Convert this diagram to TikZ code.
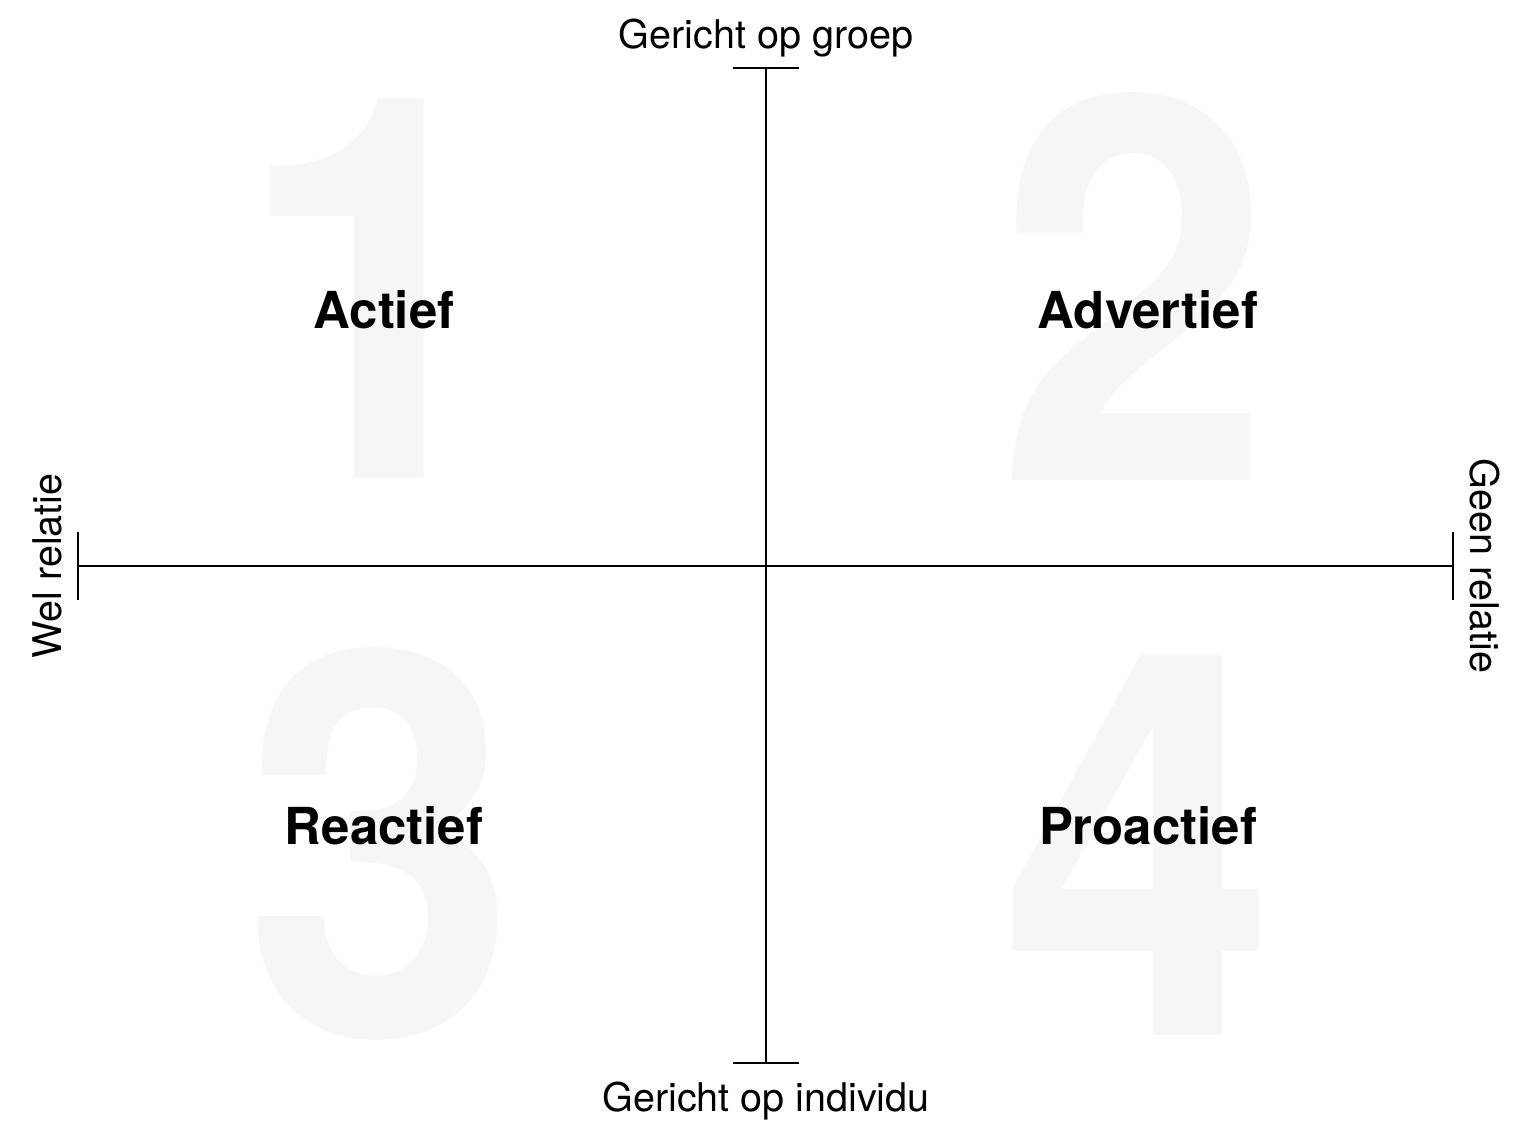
\documentclass[tikz,border=0pt]{standalone}
\usepackage{fontspec}
\setmainfont{TeX Gyre Heros}
\newfontfamily\digitfont[FakeStretch=0.92]{TeX Gyre Heros}
\definecolor{bignum}{HTML}{F6F6F6}
\begin{document}
\begin{tikzpicture}[x=0.02cm, y=-0.02cm,
		axis/.style={line width=1.1pt},
		digit/.style={anchor=base, inner sep=0pt, text=bignum, font=\digitfont\bfseries\fontsize{305}{305}\selectfont},
		quadrant/.style={anchor=base, inner sep=0pt, font=\bfseries\fontsize{29}{32}\selectfont},
		pole/.style={anchor=base, inner sep=0pt, font=\fontsize{22.5}{26}\selectfont}]
		\useasboundingbox[fill=white] (0,0) rectangle (1520,1134);
		% grote cijfers op de achtergrond
		\node[digit] (n1) at (375,478) {1};
		\node[digit] (n2) at (1135,480) {2};
		\node[digit] (n3) at (381,1035) {3};
		\node[digit] (n4) at (1139,1035) {4};
		% assen
		\coordinate (top) at (766,68);
		\coordinate (bottom) at (766,1063);
		\coordinate (left) at (78,566);
		\coordinate (right) at (1453,566);
		\draw[axis] (top) -- (bottom);
		\draw[axis] (left) -- (right);
		\draw[axis] ([xshift=-33*0.02cm]top) -- ([xshift=33*0.02cm]top);
		\draw[axis] ([xshift=-33*0.02cm]bottom) -- ([xshift=33*0.02cm]bottom);
		\draw[axis] ([yshift=34*0.02cm]left) -- ([yshift=-34*0.02cm]left);
		\draw[axis] ([yshift=34*0.02cm]right) -- ([yshift=-34*0.02cm]right);
		% polen
		\node[pole] (groep) at (766,48) {Gericht op groep};
		\node[pole] (individu) at (766,1111) {Gericht op individu};
		\node[pole, rotate=90] (wel) at (61,566) {Wel relatie};
		\node[pole, rotate=-90] (geen) at (1470,566) {Geen relatie};
		% kwadranten
		\node[quadrant] (actief) at (384,328) {Actief};
		\node[quadrant] (advertief) at (1148,328) {Advertief};
		\node[quadrant] (reactief) at (384,844) {Reactief};
		\node[quadrant] (proactief) at (1148,844) {Proactief};
	\end{tikzpicture}
\end{document}
